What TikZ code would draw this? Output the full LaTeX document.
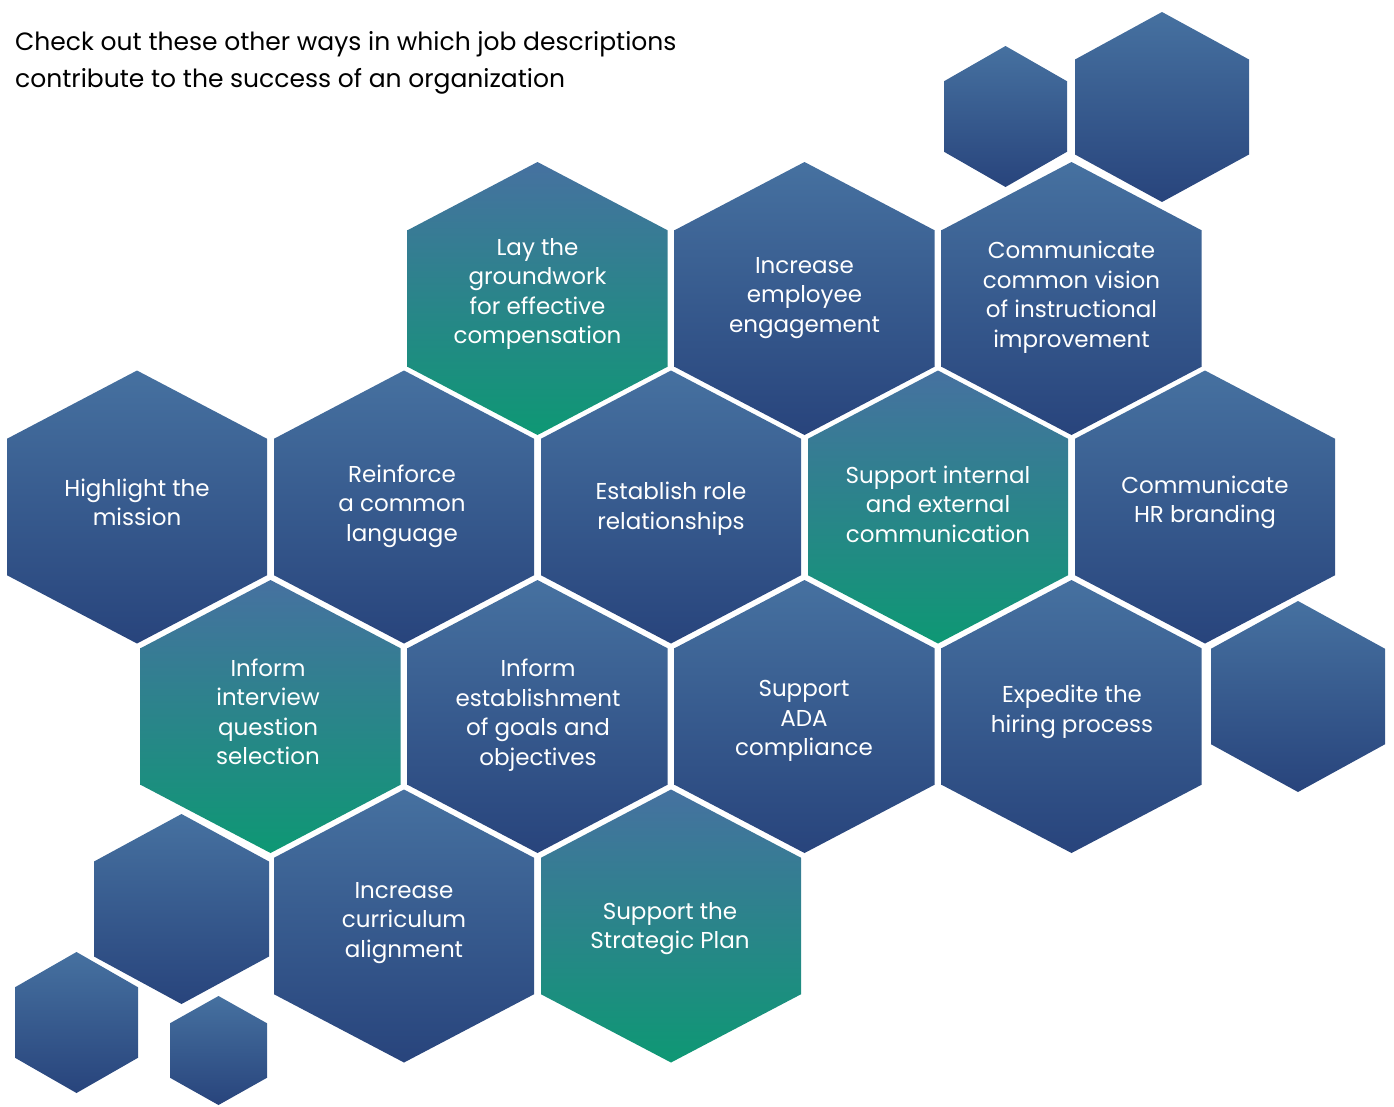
\documentclass[tikz,border=0pt]{standalone}
\usepackage{fontspec}
\setmainfont{Poppins}
\definecolor{hextop}{RGB}{70,113,160}
\definecolor{hexbottom}{RGB}{40,68,124}
\definecolor{tealbottom}{RGB}{14,152,116}

% pointy-top hexagon: centre (#1,#2), half width #3, half height #4
\newcommand{\hexa}[4]{(#1,#2-#4) -- (#1+#3,#2-#4/2) -- (#1+#3,#2+#4/2) -- (#1,#2+#4) -- (#1-#3,#2+#4/2) -- (#1-#3,#2-#4/2) -- cycle}

\begin{document}
\begin{tikzpicture}[
    x=1pt, y=-1pt,
    bluecell/.style={top color=hextop, bottom color=hexbottom},
    tealcell/.style={top color=hextop, bottom color=tealbottom},
    celltext/.style={text=white, align=center, inner sep=0pt, yshift=-3pt, font=\fontsize{23}{29.5}\selectfont},
    heading/.style={anchor=north west, align=left, inner sep=0pt, font=\fontsize{25}{37}\selectfont}
]
\useasboundingbox (0,0) rectangle (1394,1106);

\node[heading] (title) at (15,31) {Check out these other ways in which job descriptions\\contribute to the success of an organization};

% small decorative cells
\shade[bluecell] \hexa{1005.5}{116.5}{61.5}{70.5};
\shade[bluecell] \hexa{1162}{107}{87}{95};
\shade[bluecell] \hexa{1298}{696.5}{87}{95.5};
\shade[bluecell] \hexa{181.5}{909}{87.5}{95};
\shade[bluecell] \hexa{76.5}{1022.5}{61.5}{70.5};
\shade[bluecell] \hexa{218.5}{1050.5}{48.5}{54.5};

% row 1
\shade[tealcell] \hexa{537.5}{298.5}{130}{136.5};
\shade[bluecell] \hexa{804.5}{298.5}{130}{136.5};
\shade[bluecell] \hexa{1071.5}{298.5}{130}{136.5};
\node[celltext] (lay) at (537.5,291) {Lay the\\groundwork\\for effective\\compensation};
\node[celltext] (engage) at (804.5,295) {Increase\\employee\\engagement};
\node[celltext] (vision) at (1071.5,294) {Communicate\\common vision\\of instructional\\improvement};

% row 2
\shade[bluecell] \hexa{137}{507}{130}{136.5};
\shade[bluecell] \hexa{404}{507}{130}{136.5};
\shade[bluecell] \hexa{671}{507}{130}{136.5};
\shade[tealcell] \hexa{938}{507}{130}{136.5};
\shade[bluecell] \hexa{1205}{507}{130}{136.5};
\node[celltext] (mission) at (137,499.5) {Highlight the\\mission};
\node[celltext] (language) at (402,503) {Reinforce\\a common\\language};
\node[celltext] (roles) at (671,505.5) {Establish role\\relationships};
\node[celltext] (comms) at (938,501) {Support internal\\and external\\communication};
\node[celltext] (brand) at (1205,499.5) {Communicate\\HR branding};

% row 3
\shade[tealcell] \hexa{270.5}{716.5}{130}{136.5};
\shade[bluecell] \hexa{537.5}{716.5}{130}{136.5};
\shade[bluecell] \hexa{804.5}{716.5}{130}{136.5};
\shade[bluecell] \hexa{1071.5}{716.5}{130}{136.5};
\node[celltext] (interview) at (268,709) {Inform\\interview\\question\\selection};
\node[celltext] (goals) at (538,712) {Inform\\establishment\\of goals and\\objectives};
\node[celltext] (ada) at (804,718) {Support\\ADA\\compliance};
\node[celltext] (hiring) at (1072,709) {Expedite the\\hiring process};

% row 4
\shade[bluecell] \hexa{404}{926}{130}{136.5};
\shade[tealcell] \hexa{671}{926}{130}{136.5};
\node[celltext] (curriculum) at (404,920) {Increase\\curriculum\\alignment};
\node[celltext] (strategy) at (670,925.5) {Support the\\Strategic Plan};
\end{tikzpicture}
\end{document}
